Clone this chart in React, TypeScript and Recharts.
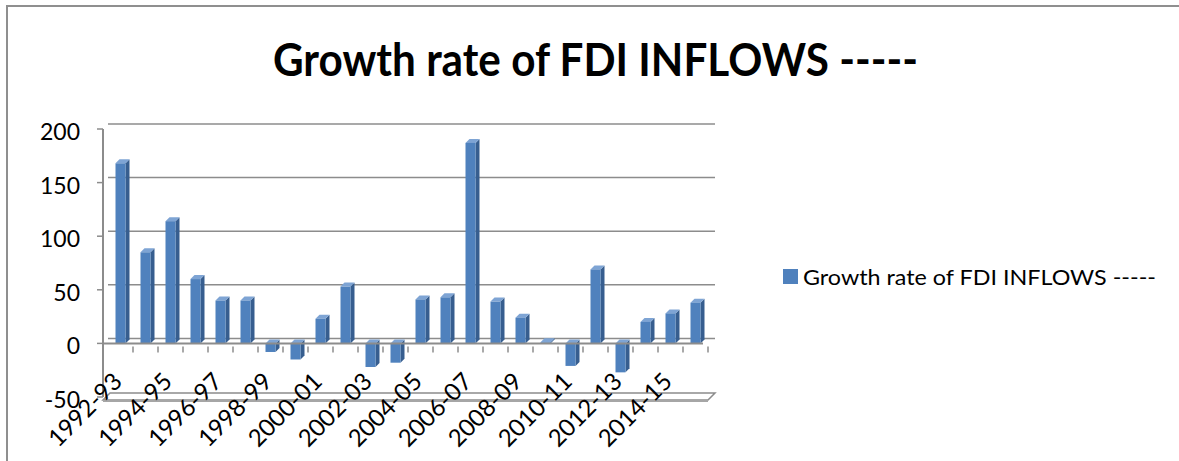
import React from "react";
import {
  BarChart,
  Bar,
  XAxis,
  YAxis,
  CartesianGrid,
  ReferenceLine,
  ReferenceArea,
  Legend,
} from "recharts";

const years = [
  "1992-93", "1993-94", "1994-95", "1995-96", "1996-97", "1997-98",
  "1998-99", "1999-00", "2000-01", "2001-02", "2002-03", "2003-04",
  "2004-05", "2005-06", "2006-07", "2007-08", "2008-09", "2009-10",
  "2010-11", "2011-12", "2012-13", "2013-14", "2014-15", "2015-16",
];
const growthRates = [
  168, 85, 114, 60, 40, 40,
  -8, -15, 23, 53, -22, -18,
  41, 43, 187, 39, 24, 1,
  -21, 69, -27, 20, 28, 38,
];
const yTicks = [-50, 0, 50, 100, 150, 200];
const seriesName = "Growth rate of FDI INFLOWS -----";
const chartTitle = "Growth rate of FDI INFLOWS -----";

const data = years.map((year, i) => ({ year, rate: growthRates[i] }));

const FRONT = "#4F81BD";
const SIDE = "#375E8F";
const TOP = "#7EA4D4";
const GRID = "#8c8c8c";
const FONT = "Lato, 'Open Sans', sans-serif";

// fake 3d column: front face, right side and a lid
const Column3D = (props: any) => {
  const { x, y, width, height, payload } = props;
  const top = height < 0 ? y + height : y;
  const h = Math.abs(height);
  const bx = x + 4.5;
  const d = 4;
  const zeroY = payload.rate >= 0 ? top + h : top;
  const tickX = bx + width / 2 + 12.5;
  return (
    <g>
      <line x1={tickX} x2={tickX} y1={zeroY + 3} y2={zeroY + 9} stroke={GRID} strokeWidth={1.5} />
      <polygon
        points={`${bx + width},${top} ${bx + width + d},${top - d} ${bx + width + d},${top + h - d} ${bx + width},${top + h}`}
        fill={SIDE}
      />
      <polygon
        points={`${bx},${top} ${bx + d},${top - d} ${bx + width + d},${top - d} ${bx + width},${top}`}
        fill={TOP}
      />
      <rect x={bx} y={top} width={width} height={h} fill={FRONT} />
    </g>
  );
};

const gridLine = (p: any) => {
  if (p.y1 > 390) return <g key={`g-${p.index}`} />;
  return (
    <line
      key={`g-${p.index}`}
      x1={p.x1 + 5}
      x2={p.x2 + 12}
      y1={p.y1 - 5}
      y2={p.y2 - 5}
      stroke={GRID}
      strokeWidth={1.5}
    />
  );
};

const floorShape = (p: any) => {
  const yb = p.y + p.height + 3;
  return (
    <g>
      <path
        d={`M${p.x},${yb} L${p.x + p.width + 5},${yb} L${p.x + p.width + 12},${yb - 7} L${p.x + 7},${yb - 7} Z`}
        fill="#fff"
        stroke={GRID}
        strokeWidth={1.5}
      />
      <line x1={p.x} x2={p.x + p.width + 5} y1={yb + 1} y2={yb + 1} stroke="#a6a6a6" strokeWidth={2} />
    </g>
  );
};

const YTick = (props: any) => {
  const { x, y, payload } = props;
  return (
    <text x={x} y={y + 2} textAnchor="end" dominantBaseline="central" fontSize={23} fill="#000" fontFamily={FONT}>
      {payload.value}
    </text>
  );
};

const XTick = (props: any) => {
  const { x, y, payload } = props;
  const ax = x + 8;
  const ay = y - 14;
  return (
    <text
      x={ax}
      y={ay}
      textAnchor="end"
      fontSize={24}
      fill="#000"
      fontFamily={FONT}
      transform={`rotate(-45, ${ax}, ${ay})`}
    >
      {payload.value}
    </text>
  );
};

const LegendBox = () => (
  <svg width={390} height={32}>
    <rect x={3} y={8} width={15} height={15} fill={FRONT} />
    <text x={23} y={24} fontSize={22} fill="#000" fontFamily={FONT} textLength={353} lengthAdjust="spacingAndGlyphs">
      {seriesName}
    </text>
  </svg>
);

export default function App() {
  return (
    <div
      style={{
        position: "absolute",
        left: 0,
        top: 0,
        width: 1179,
        height: 461,
        overflow: "hidden",
        background: "#fff",
        fontFamily: FONT,
      }}
    >
      <div
        style={{
          position: "absolute",
          left: 6,
          top: 5,
          width: 1300,
          height: 600,
          border: "2px solid #8f8f8f",
        }}
      />
      <svg width={1179} height={110} style={{ position: "absolute", left: 0, top: 0 }}>
        <text
          x={595.5}
          y={76}
          textAnchor="middle"
          fontSize={46}
          fontWeight={700}
          fill="#000"
          fontFamily={FONT}
          textLength={645}
          lengthAdjust="spacingAndGlyphs"
        >
          {chartTitle}
        </text>
      </svg>
      <div style={{ position: "absolute", left: 0, top: 0 }}>
        <BarChart
          width={1179}
          height={461}
          data={data}
          margin={{ top: 129, right: 476, bottom: 4, left: 0 }}
          barSize={10}
        >
          <CartesianGrid vertical={false} horizontal={gridLine} />
          <ReferenceArea y1={-50} y2={-45} shape={floorShape} ifOverflow="visible" />
          <XAxis
            dataKey="year"
            interval={1}
            axisLine={false}
            tickLine={false}
            tickSize={0}
            tickMargin={0}
            height={60}
            tick={<XTick />}
          />
          <YAxis
            domain={[-50, 200]}
            ticks={yTicks}
            width={103}
            axisLine={{ stroke: GRID, strokeWidth: 2 }}
            tickLine={{ stroke: GRID, strokeWidth: 1.5 }}
            tickSize={6}
            tickMargin={17}
            tick={<YTick />}
          />
          <ReferenceLine y={0} stroke={GRID} strokeWidth={2} />
          <Legend
            layout="vertical"
            align="center"
            verticalAlign="middle"
            wrapperStyle={{ left: 780, top: 261, width: 390 }}
            content={<LegendBox />}
          />
          <Bar dataKey="rate" name={seriesName} shape={<Column3D />} isAnimationActive={false} />
        </BarChart>
      </div>
    </div>
  );
}
